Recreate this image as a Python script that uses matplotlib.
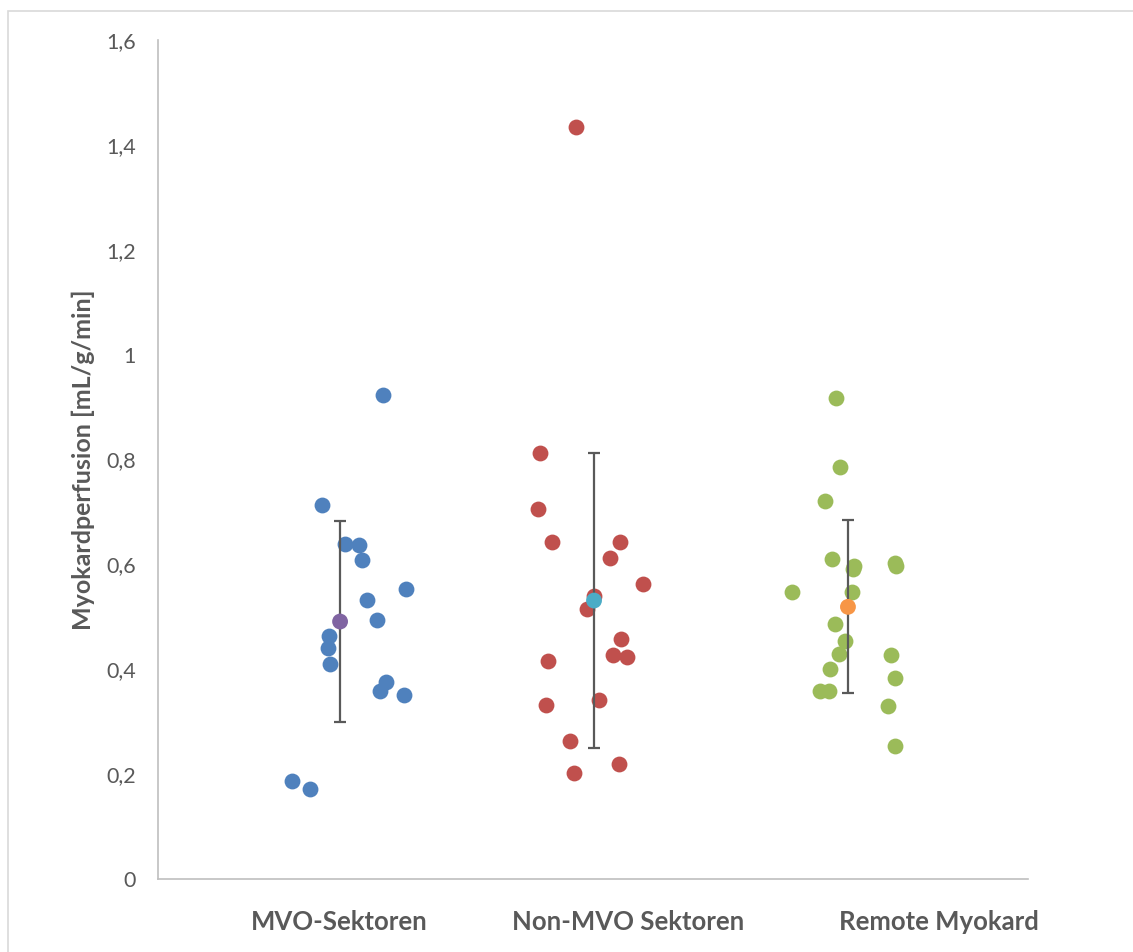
import matplotlib.pyplot as plt
from matplotlib.patches import Rectangle

plt.rcParams['font.family'] = ['Lato', 'DejaVu Sans']

categories = ['MVO-Sektoren', 'Non-MVO Sektoren', 'Remote Myokard']

# einzelne Sektoren (x = Gruppe + Streuung, y = Perfusion)
mvo_x = [1.168, 0.929, 1.019, 1.074, 1.085, 1.259, 1.107, 1.144, 0.957, 0.953,
         0.961, 1.182, 1.157, 1.251, 0.810, 0.883]
mvo_y = [0.923, 0.714, 0.639, 0.637, 0.608, 0.553, 0.532, 0.493, 0.463, 0.441,
         0.410, 0.376, 0.359, 0.351, 0.186, 0.172]

non_x = [1.929, 1.787, 1.780, 1.835, 2.102, 2.063, 2.193, 2.001, 1.972, 2.105,
         2.074, 2.130, 1.820, 2.021, 1.812, 1.906, 2.100, 1.921]
non_y = [1.435, 0.813, 0.705, 0.643, 0.643, 0.613, 0.562, 0.540, 0.515, 0.458,
         0.428, 0.423, 0.416, 0.342, 0.332, 0.263, 0.219, 0.203]

rem_x = [2.953, 2.967, 2.908, 2.936, 3.024, 3.020, 3.186, 3.188, 2.780, 3.015,
         2.949, 2.989, 2.963, 3.168, 2.929, 3.184, 2.890, 2.926, 3.157, 3.184]
rem_y = [0.917, 0.786, 0.720, 0.610, 0.597, 0.591, 0.602, 0.597, 0.547, 0.548,
         0.486, 0.454, 0.429, 0.428, 0.401, 0.383, 0.358, 0.358, 0.329, 0.254]

# Mittelwerte und Fehlerbalken
mean_x = [1, 2, 3]
mean_y = [0.491, 0.531, 0.519]
err_lo = [0.299, 0.250, 0.354]
err_hi = [0.683, 0.813, 0.684]

fig = plt.figure(figsize=(11.33, 9.52), dpi=100)
fig.patches.append(Rectangle((8/1133, -0.01), 1.0, (952-11)/952 + 0.01,
                             transform=fig.transFigure, fill=False,
                             edgecolor='#d9d9d9', linewidth=1.2))
ax = fig.add_axes([158/1133, 73/952, 870/1133, 839/952])

gray = '#595959'
ms = 130
ax.scatter(mvo_x, mvo_y, s=ms, color='#4f81bd', linewidths=0, zorder=3)
ax.scatter(non_x, non_y, s=ms, color='#c0504d', linewidths=0, zorder=3)
ax.scatter(rem_x, rem_y, s=ms, color='#9bbb59', linewidths=0, zorder=3)

lower = [m - lo for m, lo in zip(mean_y, err_lo)]
upper = [hi - m for m, hi in zip(mean_y, err_hi)]
ax.errorbar(mean_x, mean_y, yerr=[lower, upper], fmt='none', ecolor=gray,
            elinewidth=1.6, capsize=4.5, capthick=1.6, zorder=4)
mean_colors = ['#8064a2', '#4bacc6', '#f79646']
ax.scatter(mean_x, mean_y, s=ms, color=mean_colors, linewidths=0, zorder=5)

ax.set_xlim(0.283, 3.709)
ax.set_ylim(0, 1.6)
ax.set_yticks([0, 0.2, 0.4, 0.6, 0.8, 1.0, 1.2, 1.4, 1.6])
ax.set_yticklabels(['0', '0,2', '0,4', '0,6', '0,8', '1', '1,2', '1,4', '1,6'],
                   fontsize=15.5, color=gray)
ax.set_xticks([0.995, 2.135, 3.36])
ax.set_xticklabels(categories, fontsize=18.5, fontweight='bold', color=gray)
ax.tick_params(axis='y', length=0, pad=16)
ax.tick_params(axis='x', length=0, pad=22)

for side in ['top', 'right']:
    ax.spines[side].set_visible(False)
ax.spines['left'].set_color('#bfbfbf')
ax.spines['bottom'].set_color('#bfbfbf')
ax.spines['left'].set_linewidth(1.2)
ax.spines['bottom'].set_linewidth(1.2)

ax.set_ylabel('Myokardperfusion [mL/g/min]', fontsize=18, fontweight='bold',
              color=gray, labelpad=8)

fig.savefig('out.png', dpi=100)
